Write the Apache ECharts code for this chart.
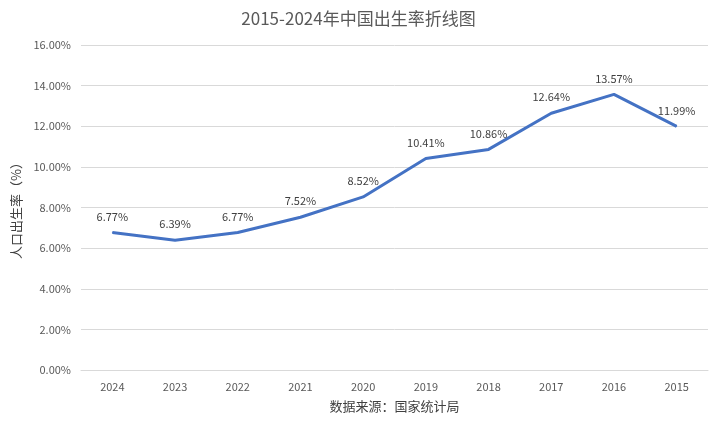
<!DOCTYPE html>
<html>
<head>
<meta charset="utf-8">
<script src="https://cdn.jsdelivr.net/npm/echarts@6/dist/echarts.min.js"></script>
<style>
  html, body { margin: 0; padding: 0; background: #fff; }
  #chart { width: 717px; height: 423px; }
</style>
</head>
<body>
<div id="chart"></div>
<script>
// Data
var years = ['2024', '2023', '2022', '2021', '2020', '2019', '2018', '2017', '2016', '2015'];
var birthRate = [6.77, 6.39, 6.77, 7.52, 8.52, 10.41, 10.86, 12.64, 13.57, 11.99];
var yTicks = { min: 0, max: 16, interval: 2 };

var myChart = echarts.init(document.getElementById('chart'));

var font = '"Microsoft YaHei", "Noto Sans CJK SC", sans-serif';

var option = {
  title: {
    text: '2015-2024年中国出生率折线图',
    left: 'center',
    top: 5,
    textStyle: { fontFamily: font, fontSize: 17, fontWeight: 'normal', color: '#595959' }
  },
  grid: { left: 81, right: 9, top: 45, bottom: 53 },
  xAxis: {
    type: 'category',
    data: years,
    name: '数据来源：国家统计局',
    nameLocation: 'middle',
    nameGap: 30,
    nameTextStyle: { fontFamily: font, fontSize: 13, color: '#404040' },
    axisLine: { lineStyle: { color: '#d9d9d9' } },
    axisTick: { show: false },
    axisLabel: { fontFamily: font, fontSize: 11, color: '#595959', margin: 11 }
  },
  yAxis: {
    type: 'value',
    min: yTicks.min,
    max: yTicks.max,
    interval: yTicks.interval,
    name: '人口出生率（%）',
    nameLocation: 'middle',
    nameGap: 55,
    nameRotate: 90,
    nameTextStyle: { fontFamily: font, fontSize: 13, color: '#404040' },
    axisLine: { show: false },
    axisTick: { show: false },
    axisLabel: {
      fontFamily: font, fontSize: 11, color: '#595959', margin: 10,
      formatter: function (v) { return v.toFixed(2) + '%'; }
    },
    splitLine: { lineStyle: { color: '#d9d9d9' } }
  },
  series: [
    {
      type: 'line',
      data: birthRate,
      symbol: 'circle',
      symbolSize: 1,
      showSymbol: true,
      lineStyle: { color: '#4472C4', width: 3 },
      itemStyle: { color: '#4472C4' },
      label: {
        show: true,
        position: 'top',
        distance: 10,
        fontFamily: font,
        fontSize: 11,
        color: '#404040',
        formatter: function (p) { return p.value.toFixed(2) + '%'; }
      }
    }
  ]
};

myChart.setOption(option);
</script>
</body>
</html>
